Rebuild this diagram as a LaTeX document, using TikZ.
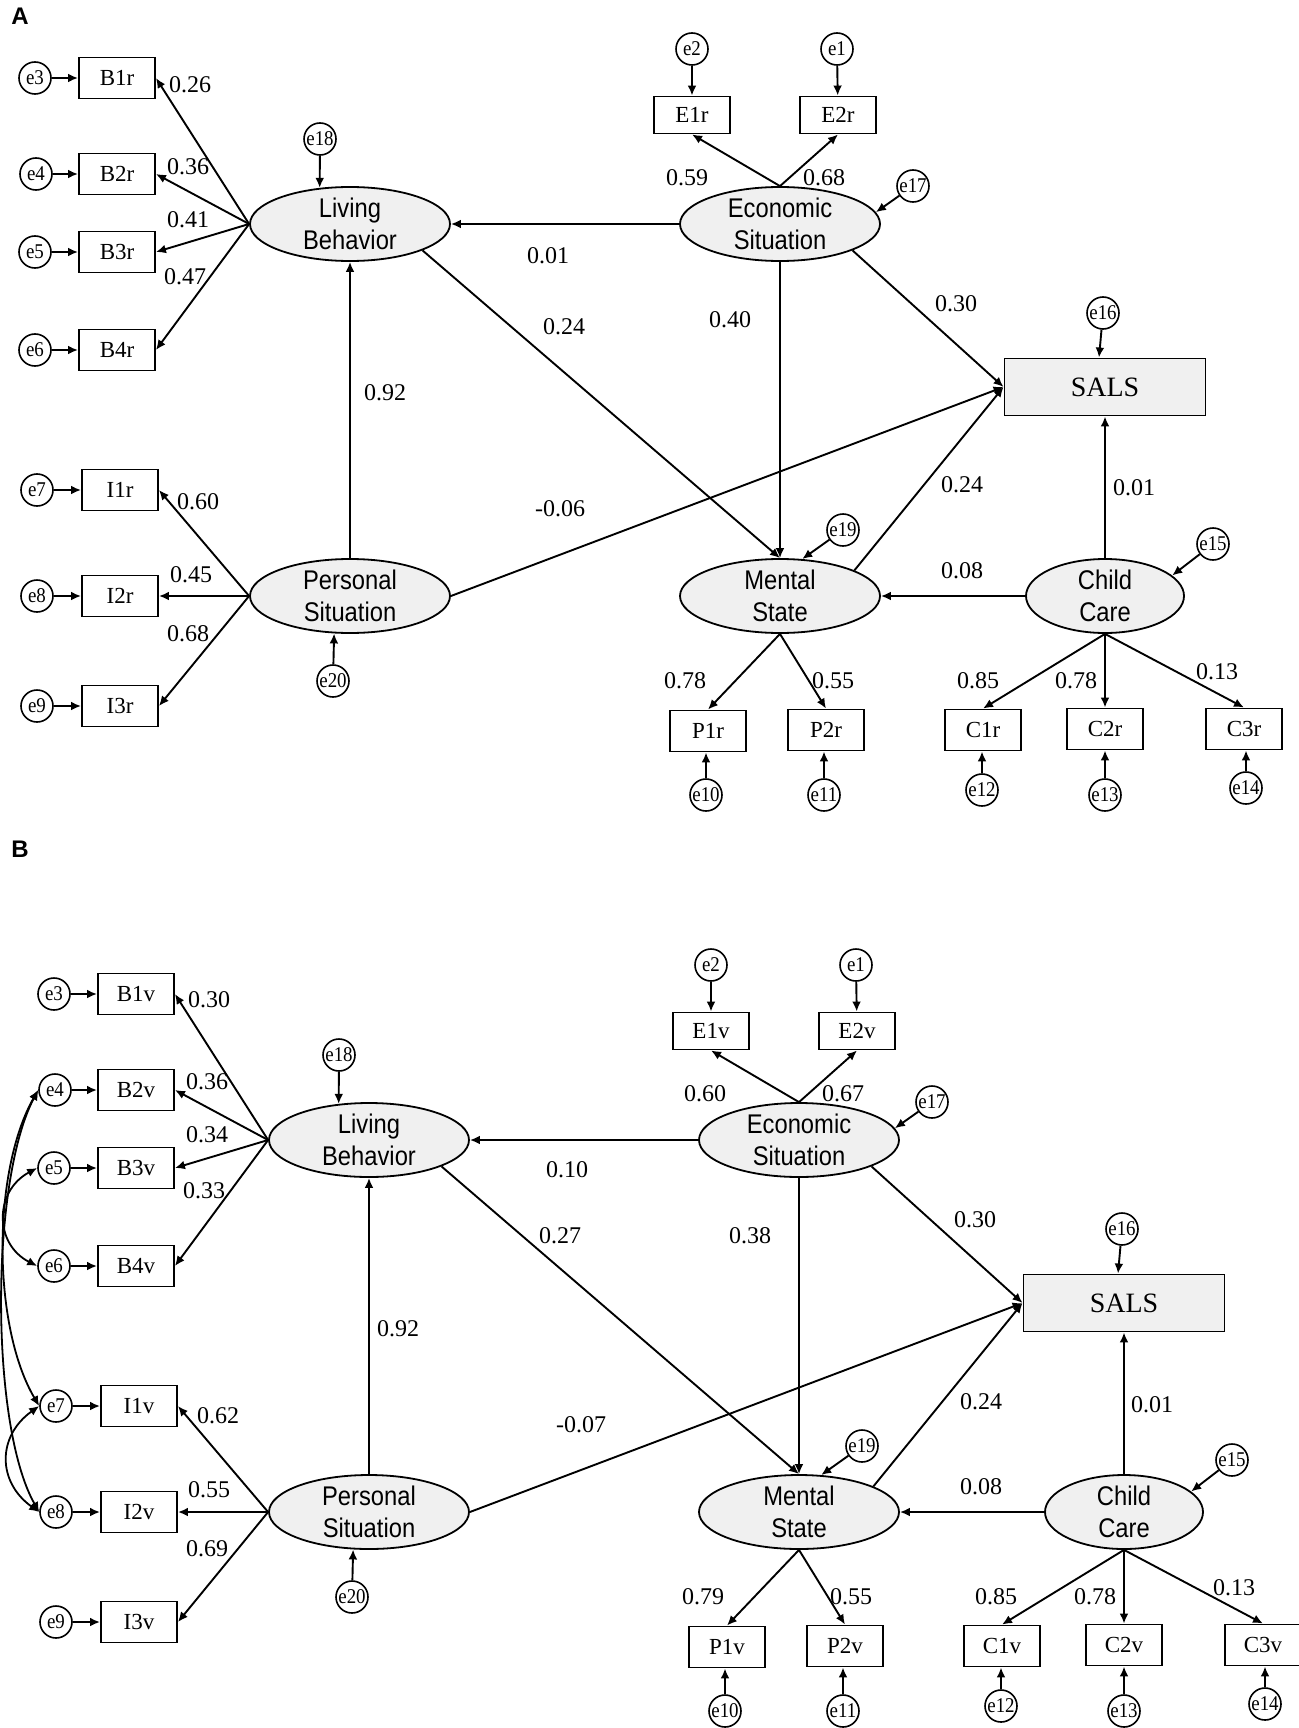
\documentclass[tikz,border=0pt]{standalone}
\usepackage{fontspec}
\setmainfont{Liberation Serif}
\newfontfamily\latfont[FakeStretch=0.88]{Liberation Sans}
\newfontfamily\panfont{Liberation Sans}
\newfontfamily\errfont[FakeStretch=0.9]{Liberation Serif}
\usetikzlibrary{shapes.geometric,arrows.meta}
\definecolor{latgray}{HTML}{F0F0F0}
\newcommand\zw[1]{\makebox[0pt]{#1}}
\tikzset{
 arr/.style={line width=0.95pt, -{Latex[length=5pt,width=4.4pt]}},
 cov/.style={line width=0.9pt, {Latex[length=5pt,width=4.4pt]}-{Latex[length=5pt,width=4.4pt]}},
 err/.style={circle, draw, line width=0.8pt, minimum size=16pt, inner sep=0pt, font=\errfont\fontsize{10.5}{11}\selectfont},
 obs/.style={rectangle, draw, line width=0.95pt, minimum width=38pt, minimum height=20.5pt, inner sep=0pt, font=\fontsize{11.5}{12}\selectfont},
 eobs/.style={obs, minimum height=18.5pt},
 latent/.style={ellipse, draw, line width=0.9pt, fill=latgray, minimum width=100pt, minimum height=37pt, inner sep=0pt},
 lattext/.style={font=\latfont\fontsize{13.5}{16}\selectfont, align=center, inner sep=0pt},
 lab/.style={font=\fontsize{12}{12}\selectfont, inner sep=0pt},
 salsbox/.style={rectangle, draw, line width=0.95pt, fill=latgray, minimum width=100.5pt, minimum height=28.5pt, inner sep=0pt, font=\fontsize{14}{14}\selectfont},
 panlab/.style={font=\panfont\bfseries\fontsize{12}{12}\selectfont, inner sep=0pt},
}
\newcommand\sempanel[2]{%
 \node[obs] (#1B1) at (117,78) {B1#2};
 \node[obs] (#1B2) at (117,174) {B2#2};
 \node[obs] (#1B3) at (117,252) {B3#2};
 \node[obs] (#1B4) at (117,350) {B4#2};
 \node[obs] (#1I1) at (120,490) {I1#2};
 \node[obs] (#1I2) at (120,596) {I2#2};
 \node[obs] (#1I3) at (120,706) {I3#2};
 \node[err] (#1e3) at (35,78) {\zw{e3}};
 \node[err] (#1e4) at (36,174) {\zw{e4}};
 \node[err] (#1e5) at (35,252) {\zw{e5}};
 \node[err] (#1e6) at (35,350) {\zw{e6}};
 \node[err] (#1e7) at (37,490) {\zw{e7}};
 \node[err] (#1e8) at (37,596) {\zw{e8}};
 \node[err] (#1e9) at (37,706) {\zw{e9}};
 \node[latent, label={[lattext]center:{Living\\Behavior}}] (#1LB) at (350,224) {};
 \node[latent, label={[lattext]center:{Personal\\Situation}}] (#1PS) at (350,596) {};
 \node[latent, label={[lattext]center:{Economic\\Situation}}] (#1EC) at (780,224) {};
 \node[latent, label={[lattext]center:{Mental\\State}}] (#1MS) at (780,596) {};
 \node[latent, minimum width=79pt, label={[lattext]center:{Child\\Care}}] (#1CC) at (1105,596) {};
 \node[err] (#1e18) at (320,139) {\zw{e18}};
 \node[err] (#1e20) at (333,681) {\zw{e20}};
 \node[eobs] (#1E1) at (692,115) {E1#2};
 \node[eobs] (#1E2) at (838,115) {E2#2};
 \node[err] (#1e2) at (692,49) {\zw{e2}};
 \node[err] (#1e1) at (837,49) {\zw{e1}};
 \node[err] (#1e17) at (913,186) {\zw{e17}};
 \node[salsbox] (#1SALS) at (1105,387) {SALS};
 \node[err] (#1e16) at (1103,313) {\zw{e16}};
 \node[err] (#1e19) at (843,530) {\zw{e19}};
 \node[err] (#1e15) at (1213,544) {\zw{e15}};
 \node[obs] (#1P1) at (708,731) {P1#2};
 \node[obs] (#1P2) at (826,730) {P2#2};
 \node[obs] (#1C1) at (983,730) {C1#2};
 \node[obs] (#1C2) at (1105,729) {C2#2};
 \node[obs] (#1C3) at (1244,729) {C3#2};
 \node[err] (#1e10) at (706,795) {\zw{e10}};
 \node[err] (#1e11) at (824,795) {\zw{e11}};
 \node[err] (#1e12) at (982,790) {\zw{e12}};
 \node[err] (#1e13) at (1105,795) {\zw{e13}};
 \node[err] (#1e14) at (1246,788) {\zw{e14}};
 % error arrows
 \draw[arr] (#1e3) -- (#1B1);
 \draw[arr] (#1e4) -- (#1B2);
 \draw[arr] (#1e5) -- (#1B3);
 \draw[arr] (#1e6) -- (#1B4);
 \draw[arr] (#1e7) -- (#1I1);
 \draw[arr] (#1e8) -- (#1I2);
 \draw[arr] (#1e9) -- (#1I3);
 \draw[arr] (#1e2) -- (#1E1);
 \draw[arr] (#1e1) -- (#1E2);
 \draw[arr] (#1e18) -- (#1LB.130);
 \draw[arr] (#1e20) -- (#1PS.247);
 \draw[arr] (#1e17) -- (#1EC.7);
 \draw[arr] (#1e16) -- ([xshift=-3pt]#1SALS.north);
 \draw[arr] (#1e19) -- (#1MS.59);
 \draw[arr] (#1e15) -- (#1CC.17);
 \draw[arr] (#1e10) -- (#1e10 |- #1P1.south);
 \draw[arr] (#1e11) -- (#1e11 |- #1P2.south);
 \draw[arr] (#1e12) -- (#1e12 |- #1C1.south);
 \draw[arr] (#1e13) -- (#1e13 |- #1C2.south);
 \draw[arr] (#1e14) -- (#1e14 |- #1C3.south);
 % loadings
 \draw[arr] (#1LB.west) -- (#1B1.east);
 \draw[arr] (#1LB.west) -- (#1B2.east);
 \draw[arr] (#1LB.west) -- (#1B3.east);
 \draw[arr] (#1LB.west) -- (#1B4.east);
 \draw[arr] (#1PS.west) -- (#1I1.east);
 \draw[arr] (#1PS.west) -- (#1I2.east);
 \draw[arr] (#1PS.west) -- (#1I3.east);
 \draw[arr] (#1EC.north) -- (#1E1.south);
 \draw[arr] (#1EC.north) -- (#1E2.south);
 \draw[arr] (#1MS.south) -- (#1P1.north);
 \draw[arr] (#1MS.south) -- (#1P2.north);
 \draw[arr] (#1CC.south) -- (#1C1.north);
 \draw[arr] (#1CC.south) -- (#1C2.north);
 \draw[arr] (#1CC.south) -- (#1C3.north);
 % structural paths
 \draw[arr] (#1PS.north) -- (#1LB.south);
 \draw[arr] (#1EC.west) -- (#1LB.east);
 \draw[arr] (#1EC.south) -- (#1MS.north);
 \draw[arr] (#1LB.-20) -- (#1MS.north);
 \draw[arr] (#1EC.-20) -- (#1SALS.west);
 \draw[arr] (#1PS.east) -- (#1SALS.west);
 \draw[arr] (#1MS.19) -- (#1SALS.west);
 \draw[arr] (#1CC.west) -- (#1MS.east);
 \draw[arr] (#1CC.north) -- (#1CC.north |- #1SALS.south);
}
\begin{document}
\begin{tikzpicture}[x=0.5pt,y=-0.5pt]
\fill[white] (0,0) rectangle (1299,1728);
\useasboundingbox (0,0) rectangle (1299,1728);
\node[panlab] (panA) at (20,16) {A};
\node[panlab] (panB) at (20,849) {B};
% Panel A
\sempanel{a}{r}
\foreach \x/\y/\t [count=\i] in {190/85/0.26, 188/167/0.36, 188/220/0.41, 185/277/0.47,
 198/502/0.60, 191/575/0.45, 188/634/0.68, 687/178/0.59, 824/178/0.68,
 548/256/0.01, 564/327/0.24, 730/320/0.40, 956/304/0.30, 385/393/0.92,
 560/509/-0.06, 962/485/0.24, 1134/488/0.01, 962/571/0.08,
 685/681/0.78, 833/681/0.55, 978/681/0.85, 1076/681/0.78, 1217/672/0.13}
 {\node[lab] (alab\i) at (\x,\y) {\t};}
% Panel B
\begin{scope}[shift={(19,916)}]
\sempanel{b}{v}
\foreach \x/\y/\t [count=\i] in {190/84/0.30, 188/166/0.36, 188/219/0.34, 185/275/0.33,
 199/500/0.62, 190/574/0.55, 188/633/0.69, 686/178/0.60, 824/178/0.67,
 548/254/0.10, 541/320/0.27, 731/320/0.38, 956/304/0.30, 379/413/0.92,
 562/509/-0.07, 962/486/0.24, 1133/489/0.01, 962/571/0.08,
 684/681/0.79, 832/681/0.55, 977/681/0.85, 1076/681/0.78, 1215/672/0.13}
 {\node[lab] (blab\i) at (\x,\y) {\t};}
\draw[cov] (be4.west) .. controls (-27,255) and (-27,410) .. (be7.west);
\draw[cov] (be4.west) .. controls (-29,265) and (-29,510) .. (be8.west);
\draw[cov] (be5.west) .. controls (-25,275) and (-25,328) .. (be6.west);
\draw[cov] (be7.west) .. controls (-22,520) and (-22,566) .. (be8.west);
\end{scope}
\end{tikzpicture}
\end{document}
